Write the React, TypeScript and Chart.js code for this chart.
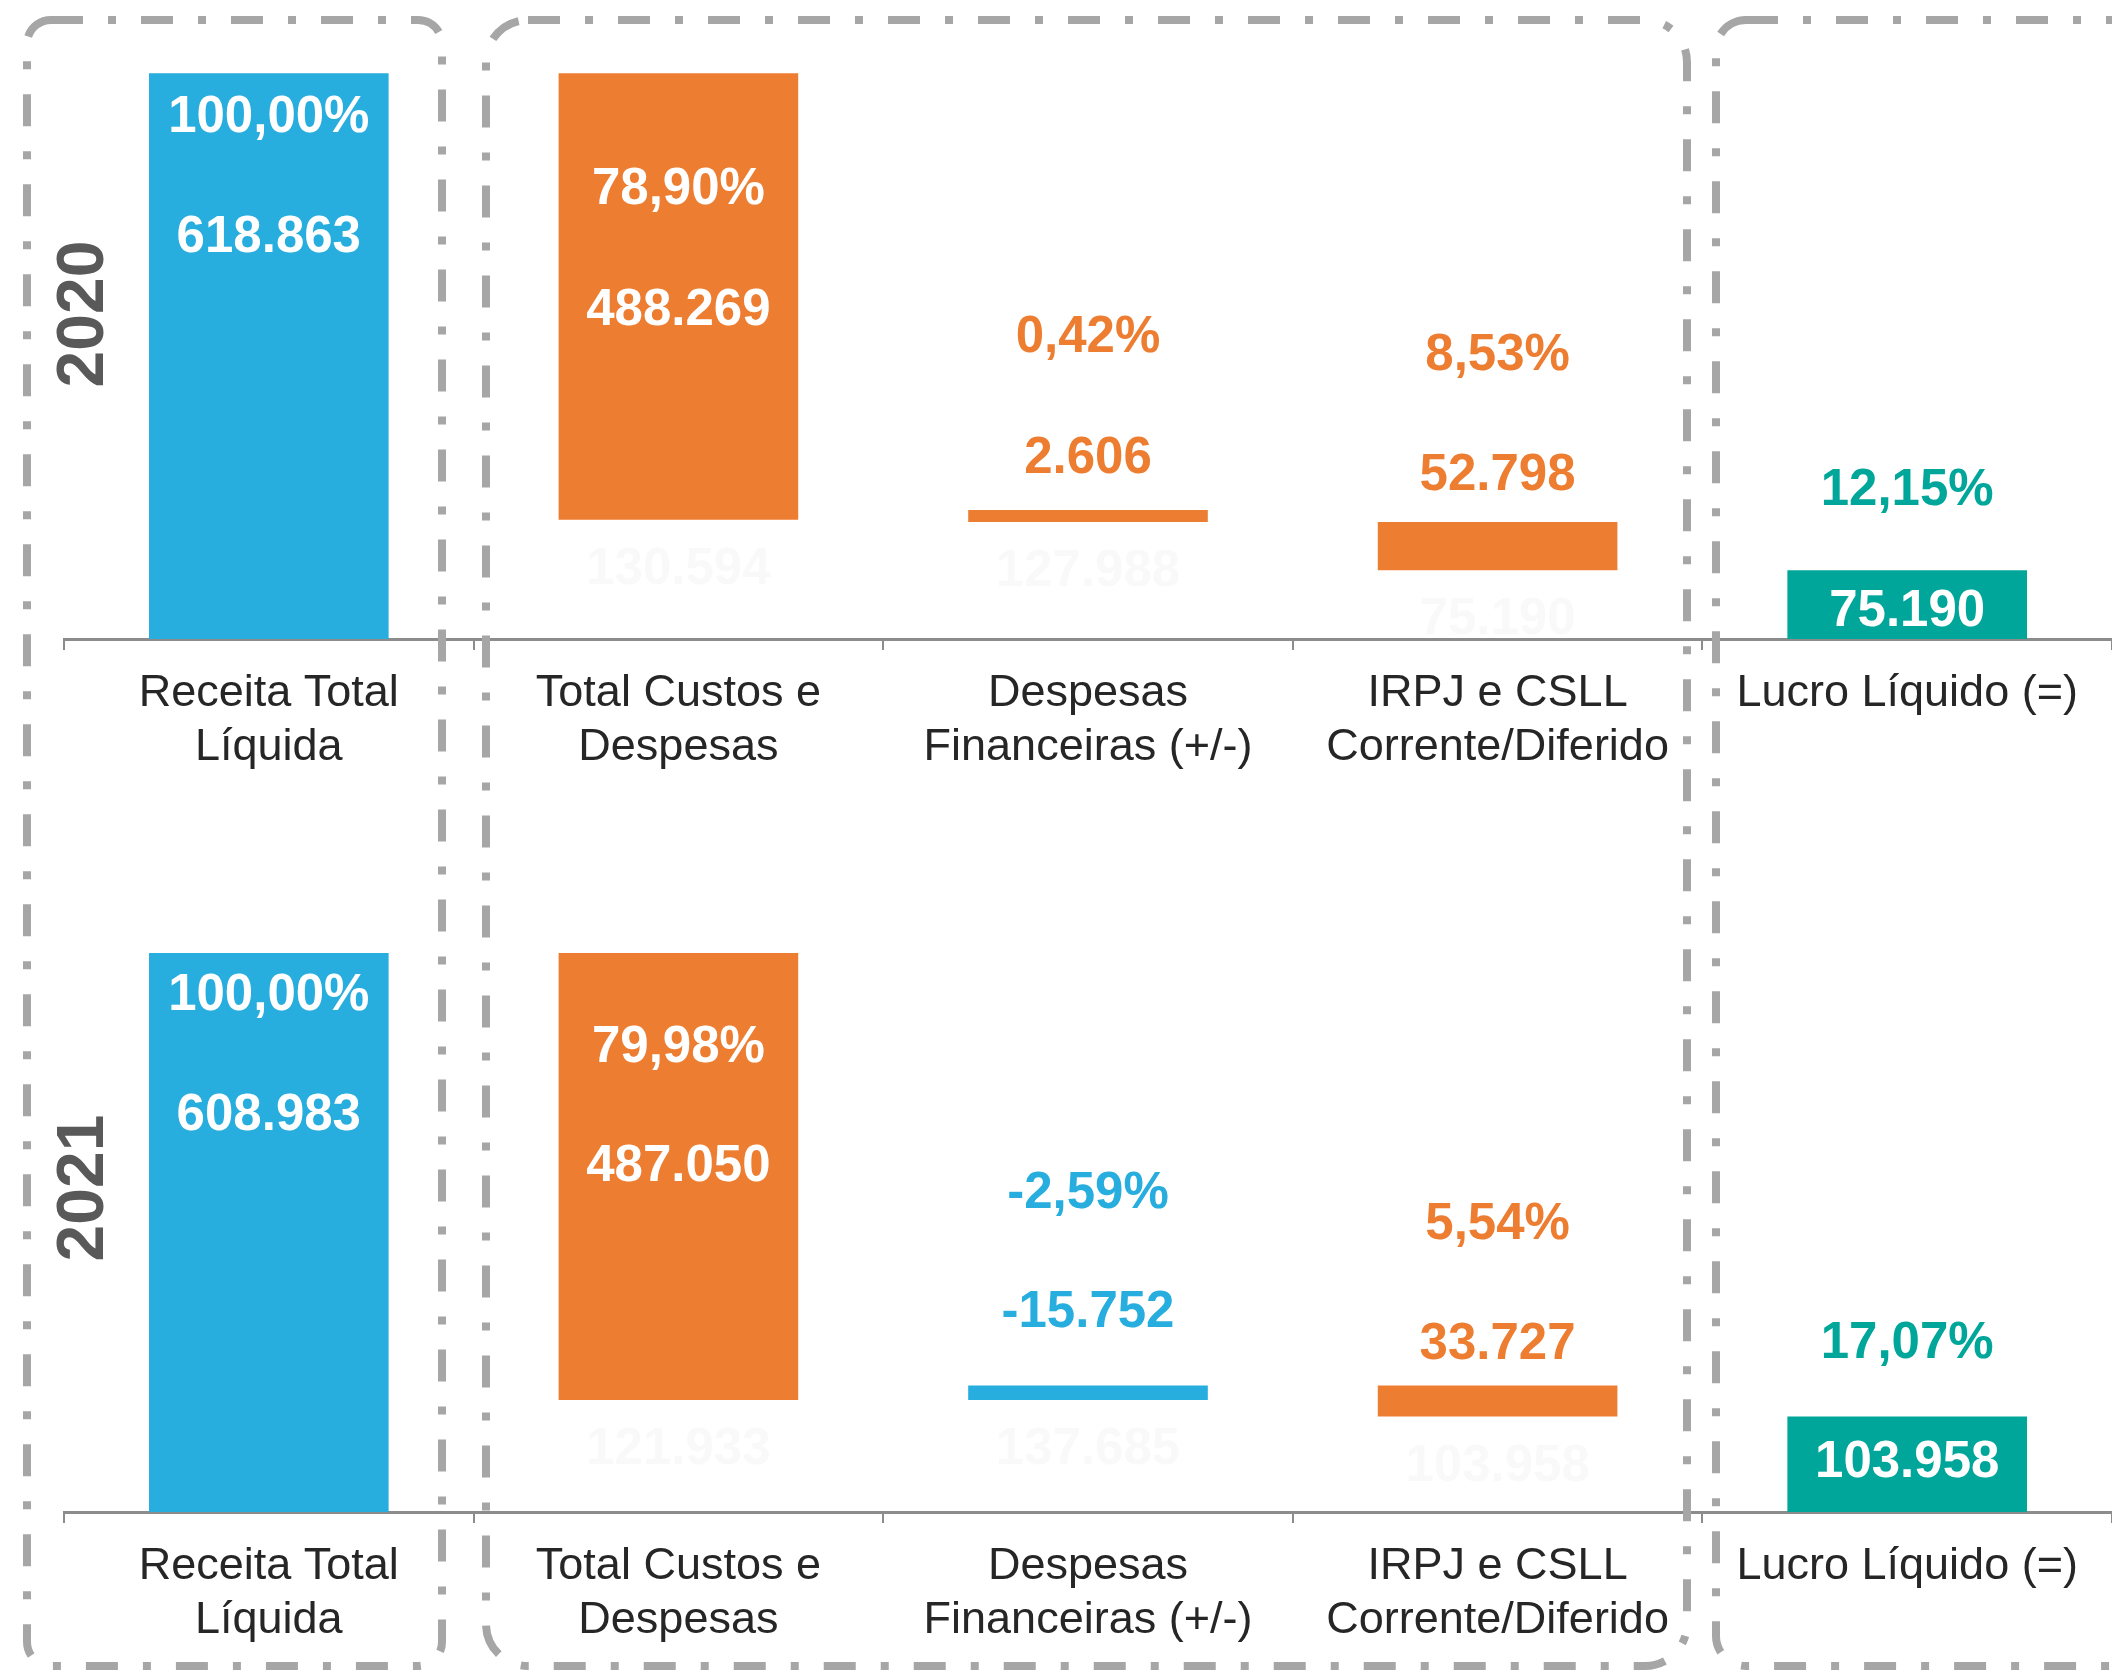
import React, { useEffect, useRef } from 'react';
import { Chart, registerables } from 'chart.js';

Chart.register(...registerables);

// ---------- DATA ----------
const CATEGORIES: string[][] = [
  ['Receita Total', 'Líquida'],
  ['Total Custos e', 'Despesas'],
  ['Despesas', 'Financeiras (+/-)'],
  ['IRPJ e CSLL', 'Corrente/Diferido'],
  ['Lucro Líquido (=)'],
];
const YEARS = ['2020', '2021'];
const REVENUE = [618863, 608983];
const COSTS = [488269, 487050];
const FIN_EXPENSES = [2606, -15752];
const TAXES = [52798, 33727];
const NET_PROFIT = [75190, 103958];
const Y_MAX = 640000;

// ---------- STYLE ----------
const BLUE = '#27ADDE';
const ORANGE = '#ED7D31';
const TEAL = '#00A69A';
const AXIS = '#8C8C8C';
const LABEL = '#262626';
const YEAR_COLOR = '#595959';
const BOX = '#A6A6A6';
const FONT = '"Liberation Sans", Arial, sans-serif';

const CHART_LAYOUT = [
  { top: 0, height: 835, padTop: 54, axisHeight: 196, yearY: 314 },
  { top: 835, height: 836, padTop: 89.5, axisHeight: 159, yearY: 353 },
];
// label offsets (px) from each bar's top edge
const LABEL_OFFSETS = [
  { pct: [45, 117, -172, -166, -79], val: [165, 238, -51, -46, 42] },
  { pct: [43, 95, -192, -161, -73], val: [163, 214, -73, -41, 46] },
];

const fmtInt = (v: number) =>
  (v < 0 ? '-' : '') + Math.abs(Math.round(v)).toString().replace(/\B(?=(\d{3})+(?!\d))/g, '.');
const fmtPct = (v: number) => v.toFixed(2).replace('.', ',') + '%';

function buildYear(i: number) {
  const rev = REVENUE[i];
  const afterCosts = rev - COSTS[i];
  const afterFin = afterCosts - FIN_EXPENSES[i];
  const afterTax = afterFin - TAXES[i];
  const bars: [number, number][] = [
    [0, rev],
    [afterCosts, rev],
    [Math.min(afterCosts, afterFin), Math.max(afterCosts, afterFin)],
    [afterTax, afterFin],
    [0, NET_PROFIT[i]],
  ];
  const amounts = [rev, COSTS[i], FIN_EXPENSES[i], TAXES[i], NET_PROFIT[i]];
  const running = [null, afterCosts, afterFin, afterTax, null] as (number | null)[];
  const finColor = FIN_EXPENSES[i] >= 0 ? ORANGE : BLUE;
  const colors = [BLUE, ORANGE, finColor, ORANGE, TEAL];
  const pctColors = ['#ffffff', '#ffffff', finColor, ORANGE, TEAL];
  const valColors = ['#ffffff', '#ffffff', finColor, ORANGE, '#ffffff'];
  return {
    bars,
    colors,
    pctLabels: amounts.map((a) => fmtPct((a / rev) * 100)),
    valLabels: amounts.map(fmtInt),
    running,
    pctColors,
    valColors,
  };
}

function WaterfallChart({ index }: { index: number }) {
  const ref = useRef<HTMLCanvasElement | null>(null);
  const layout = CHART_LAYOUT[index];
  useEffect(() => {
    if (!ref.current) return;
    const d = buildYear(index);
    const offs = LABEL_OFFSETS[index];
    const labelPlugin = {
      id: 'wfLabels',
      afterDatasetsDraw(chart: any) {
        const ctx = chart.ctx;
        const meta = chart.getDatasetMeta(0);
        ctx.save();
        ctx.textAlign = 'center';
        ctx.textBaseline = 'middle';
        meta.data.forEach((bar: any, k: number) => {
          const top = Math.min(bar.y, bar.base);
          const bottom = Math.max(bar.y, bar.base);
          ctx.font = `bold 51px ${FONT}`;
          const r = d.running[k];
          if (r !== null) {
            ctx.fillStyle = '#f9f9f9';
            ctx.fillText(fmtInt(r), bar.x, bottom + 50);
          }
          ctx.fillStyle = d.pctColors[k];
          ctx.fillText(d.pctLabels[k], bar.x, top + offs.pct[k]);
          ctx.fillStyle = d.valColors[k];
          ctx.fillText(d.valLabels[k], bar.x, top + offs.val[k]);
        });
        ctx.restore();
      },
      afterDraw(chart: any) {
        const ctx = chart.ctx;
        ctx.save();
        ctx.translate(85, layout.yearY);
        ctx.rotate(-Math.PI / 2);
        ctx.font = `bold 66px ${FONT}`;
        ctx.fillStyle = YEAR_COLOR;
        ctx.textAlign = 'center';
        ctx.textBaseline = 'middle';
        ctx.fillText(YEARS[index], 0, 0);
        ctx.restore();
      },
    };
    const chart = new Chart(ref.current, {
      type: 'bar',
      data: {
        labels: CATEGORIES,
        datasets: [
          {
            data: d.bars as any,
            backgroundColor: d.colors,
            borderWidth: 0,
            barPercentage: 0.585,
            categoryPercentage: 1,
            minBarLength: 12,
          },
        ],
      },
      options: {
        animation: false,
        responsive: false,
        devicePixelRatio: 1,
        layout: { padding: { left: 64, right: 0, top: layout.padTop, bottom: 0 } },
        plugins: {
          legend: { display: false },
          tooltip: { enabled: false },
          title: { display: false },
        },
        scales: {
          x: {
            grid: {
              display: true,
              drawOnChartArea: false,
              drawTicks: true,
              tickLength: 11,
              color: AXIS,
              lineWidth: 2,
              offset: true,
            },
            border: { display: true, color: AXIS, width: 3 },
            ticks: {
              color: LABEL,
              font: { family: FONT, size: 45 },
              padding: 17,
              maxRotation: 0,
              minRotation: 0,
              autoSkip: false,
            },
            afterFit: (s: any) => {
              s.height = layout.axisHeight;
            },
          },
          y: { display: false, min: 0, max: Y_MAX },
        },
      },
      plugins: [labelPlugin],
    } as any);
    return () => chart.destroy();
  }, [index]);
  return (
    <canvas
      ref={ref}
      width={2112}
      height={layout.height}
      style={{ position: 'absolute', left: 0, top: layout.top, width: 2112, height: layout.height, display: 'block' }}
    />
  );
}

function roundedPath(ctx: CanvasRenderingContext2D, x: number, y: number, w: number, h: number, r: number) {
  ctx.beginPath();
  ctx.moveTo(x + r, y);
  ctx.lineTo(x + w - r, y);
  ctx.arcTo(x + w, y, x + w, y + r, r);
  ctx.lineTo(x + w, y + h - r);
  ctx.arcTo(x + w, y + h, x + w - r, y + h, r);
  ctx.lineTo(x + r, y + h);
  ctx.arcTo(x, y + h, x, y + h - r, r);
  ctx.lineTo(x, y + r);
  ctx.arcTo(x, y, x + r, y, r);
  ctx.closePath();
}

const BOXES = [
  { x: 27, y: 20, w: 415, h: 1646, r: 24 },
  { x: 486, y: 20, w: 1201, h: 1646, r: 42 },
  { x: 1716, y: 20, w: 600, h: 1646, r: 30 },
];

function Boxes() {
  const ref = useRef<HTMLCanvasElement | null>(null);
  useEffect(() => {
    const c = ref.current;
    if (!c) return;
    const ctx = c.getContext('2d');
    if (!ctx) return;
    ctx.clearRect(0, 0, c.width, c.height);
    ctx.strokeStyle = BOX;
    ctx.lineWidth = 8;
    ctx.lineCap = 'butt';
    ctx.setLineDash([32, 25, 8, 25]);
    BOXES.forEach((b) => {
      roundedPath(ctx, b.x, b.y, b.w, b.h, b.r);
      ctx.stroke();
    });
  }, []);
  return (
    <canvas
      ref={ref}
      width={2112}
      height={1671}
      style={{ position: 'absolute', left: 0, top: 0, width: 2112, height: 1671, pointerEvents: 'none' }}
    />
  );
}

export default function App() {
  return (
    <div
      style={{
        position: 'absolute',
        left: 0,
        top: 0,
        width: 2112,
        height: 1671,
        overflow: 'hidden',
        background: '#ffffff',
      }}
    >
      <WaterfallChart index={0} />
      <WaterfallChart index={1} />
      <Boxes />
    </div>
  );
}
